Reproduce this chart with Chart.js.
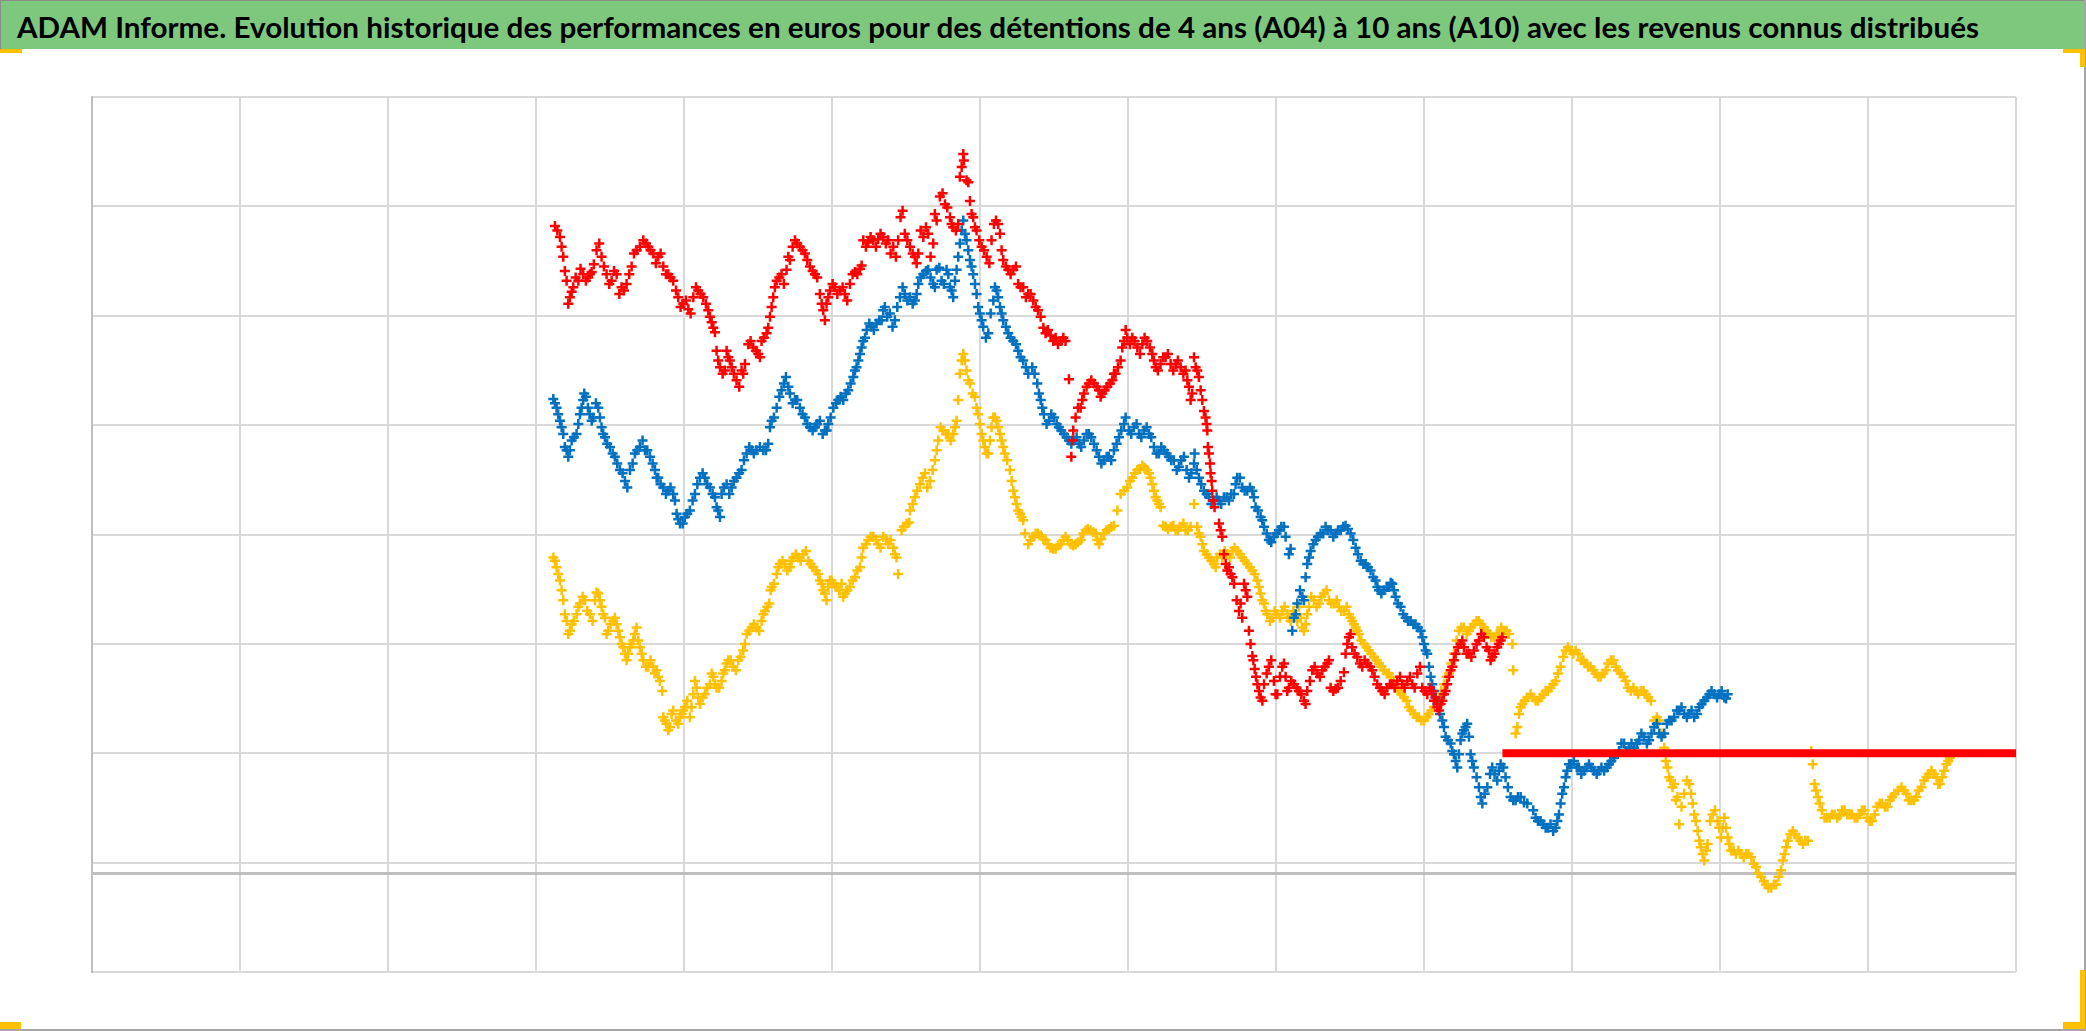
<!DOCTYPE html>
<html lang="fr">
<head>
<meta charset="utf-8">
<title>ADAM Informe</title>
<script src="https://cdn.jsdelivr.net/npm/chart.js@4.4.1/dist/chart.umd.min.js"></script>
<style>
  html, body { margin: 0; padding: 0; background: #fff; }
  #page { position: relative; width: 2086px; height: 1031px; overflow: hidden; background: #fff; }
  #bandeau {
    position: absolute; left: 0; top: 0; width: 2084px; height: 48px;
    background: #7ec87e; border-top: 1px solid #8c8c8c; border-left: 1px solid #8c8c8c;
  }
  #titre {
    position: absolute; left: 16px; top: 8px; white-space: nowrap; line-height: normal;
    font-family: 'Lato', 'Open Sans', 'Liberation Sans', sans-serif;
    font-weight: bold; font-size: 29px; color: #000; transform-origin: left top;
  }
  #zone { position: absolute; left: 0; top: 49px; width: 2083px; height: 980px; }
  .bord { position: absolute; background: #a6a6a6; }
  .poignee { position: absolute; background: #ffc000; }
</style>
</head>
<body>
<div id="page">
  <div id="bandeau"><span id="titre">ADAM Informe. Evolution historique des performances en euros pour des détentions de 4 ans (A04) à 10 ans (A10) avec les revenus connus distribués</span></div>
  <div id="zone"><canvas id="graphique" width="2083" height="980"></canvas></div>
  <div class="bord" style="left:2084px; top:0; width:2px; height:1031px"></div>
  <div class="bord" style="left:0; top:1029px; width:2086px; height:2px"></div>
  <div class="poignee" style="left:0; top:49px; width:22px; height:4px"></div>
  <div class="poignee" style="left:2063px; top:49px; width:22px; height:4px"></div>
  <div class="poignee" style="left:2080px; top:49px; width:5px; height:18px"></div>
  <div class="poignee" style="left:0; top:1022px; width:21px; height:7px"></div>
  <div class="poignee" style="left:2063px; top:1022px; width:22px; height:7px"></div>
  <div class="poignee" style="left:2080px; top:970px; width:5px; height:59px"></div>
</div>
<script>
// Axes (sans libellés visibles dans l'original)
const xTicks = [0, 1, 2, 3, 4, 5, 6, 7, 8, 9, 10, 11, 12, 13];
const yTicks = [-900, 0, 100, 1100, 2100, 3100, 4100, 5100, 6100, 7100];

// A10 (rouge) - premier relevé
const a10X = [3.128,3.162,3.184,3.207,3.229,3.252,3.286,3.319,3.353,3.376,3.409,3.443,3.477,3.511,3.545,3.578,3.612,3.646,3.680,3.725,3.759,3.792,3.826,3.860,3.894,3.927,3.961,3.995,4.029,4.063,4.096,4.130,4.164,4.187,4.209,4.220,4.243,4.276,4.299,4.322,4.355,4.389,4.412,4.434,4.468,4.502,4.524,4.558,4.581,4.603,4.626,4.659,4.693,4.716,4.750,4.783,4.817,4.851,4.885,4.918,4.941,4.963,4.986,5.020,5.054,5.087,5.121,5.155,5.189,5.211,5.245,5.279,5.312,5.346,5.380,5.414,5.447,5.463,5.492,5.527,5.560,5.583,5.617,5.650,5.684,5.707,5.729,5.763,5.797,5.819,5.853,5.864,5.876,5.887,5.909,5.932,5.954,5.977,6.011,6.045,6.078,6.108,6.135,6.157,6.191,6.225,6.258,6.292,6.326,6.342,6.376,6.410,6.443,6.477,6.511,6.545,6.578,6.601,6.617,6.624,6.630,6.646,6.680,6.702,6.736,6.770,6.804,6.826,6.860,6.894,6.916,6.950,6.973,6.995,7.029,7.063,7.097,7.130,7.164,7.187,7.220,7.254,7.288,7.322,7.356,7.389,7.412,7.434,7.457,7.479,7.502,7.524,7.536,7.547,7.558,7.569,7.585,7.615,7.637,7.648,7.671,7.693,7.716,7.750,7.772,7.795,7.817,7.828,7.840,7.856,7.874,7.896,7.919,7.952,7.986,8.009,8.042,8.065,8.087,8.121,8.155,8.189,8.211,8.245,8.279,8.313,8.347,8.369,8.403,8.437,8.459,8.470,8.493,8.515,8.549,8.583,8.617,8.651,8.684,8.718,8.752,8.786,8.819,8.853,8.887,8.921,8.955,8.988,9.022,9.056,9.078,9.101,9.124,9.146,9.169,9.191,9.214,9.247,9.270,9.304,9.337,9.371,9.405,9.439,9.461,9.495,9.518,9.529];
const a10Y = [5920,5820,5640,5420,5270,5360,5420,5480,5450,5500,5700,5640,5480,5420,5480,5360,5390,5550,5700,5790,5730,5670,5640,5550,5480,5420,5270,5210,5160,5270,5330,5270,5150,5040,4950,4780,4630,4600,4720,4630,4510,4600,4660,4840,4810,4750,4870,4940,5090,5270,5420,5480,5520,5610,5790,5730,5670,5550,5480,5300,5150,5210,5330,5360,5330,5300,5390,5500,5530,5790,5770,5790,5800,5820,5790,5730,5790,6000,5850,5730,5640,5670,5820,5850,5760,5970,6190,6120,6000,5910,5940,6370,6460,6580,6340,6150,6000,5880,5730,5640,5790,5970,5850,5610,5520,5520,5390,5360,5300,5300,5180,5090,4940,4920,4900,4870,4870,4520,3810,3960,4050,4170,4260,4390,4480,4480,4420,4390,4450,4510,4570,4690,4870,4900,4900,4810,4840,4870,4750,4630,4660,4720,4660,4660,4630,4600,4450,4390,4630,4540,4330,4170,4050,3840,3660,3500,3350,3200,3080,2920,2770,2740,2650,2400,2340,2590,2220,2100,1990,1870,1730,1610,1730,1890,1760,1640,1890,1800,1700,1730,1670,1580,1670,1860,1830,1860,1920,1700,1690,1760,1840,2010,2160,2070,1980,1890,1920,1860,1730,1670,1700,1730,1760,1730,1760,1730,1830,1700,1640,1670,1610,1490,1580,1670,1800,1890,2010,2100,2070,2010,2040,2130,2160,2040,1980,2070,2130,2160];
// A10 - second relevé, entre les points du premier
const a10XBis = [3.144,3.173,3.195,3.218,3.241,3.268,3.301,3.337,3.364,3.391,3.427,3.459,3.495,3.527,3.563,3.594,3.630,3.662,3.702,3.743,3.774,3.810,3.842,3.878,3.909,3.946,3.977,4.013,4.045,4.081,4.112,4.148,4.175,4.198,4.231,4.261,4.288,4.310,4.337,4.373,4.400,4.450,4.486,4.513,4.540,4.569,4.592,4.614,4.644,4.675,4.705,4.734,4.765,4.801,4.833,4.869,4.900,4.930,4.952,4.975,5.004,5.036,5.072,5.103,5.139,5.171,5.200,5.229,5.261,5.297,5.328,5.364,5.396,5.432,5.477,5.509,5.545,5.572,5.599,5.635,5.666,5.695,5.747,5.779,5.808,5.837,5.891,5.921,5.943,5.966,5.995,6.027,6.063,6.094,6.123,6.146,6.175,6.207,6.243,6.274,6.310,6.360,6.392,6.428,6.459,6.495,6.527,6.563,6.662,6.691,6.720,6.752,6.788,6.815,6.842,6.878,6.905,6.932,6.961,6.984,7.013,7.045,7.081,7.112,7.148,7.175,7.202,7.238,7.270,7.306,7.337,7.374,7.401,7.423,7.446,7.468,7.491,7.513,7.531,7.540,7.554,7.565,7.576,7.626,7.660,7.682,7.705,7.734,7.761,7.784,7.806,7.847,7.865,7.885,7.908,7.937,7.968,7.997,8.027,8.054,8.076,8.103,8.139,8.171,8.200,8.229,8.261,8.297,8.329,8.358,8.387,8.419,8.482,8.504,8.531,8.567,8.599,8.635,8.666,8.702,8.734,8.770,8.802,8.838,8.869,8.905,8.937,8.973,9.004,9.040,9.067,9.090,9.112,9.135,9.157,9.180,9.202,9.229,9.259,9.288,9.320,9.355,9.387,9.423,9.450,9.477,9.506];
const a10YBis = [5880,5730,5510,5210,5320,5450,5530,5420,5480,5570,5760,5550,5390,5510,5300,5330,5480,5670,5730,5760,5700,5580,5670,5480,5450,5330,5180,5240,5120,5360,5300,5210,5090,4990,4690,4570,4780,4690,4570,4450,4570,4870,4780,4720,4900,4990,5180,5360,5450,5390,5640,5730,5760,5700,5610,5510,5450,5210,5060,5270,5390,5300,5360,5240,5480,5480,5560,5730,5820,5730,5850,5760,5670,5640,6060,5790,5670,5580,5880,5910,5640,6030,6220,6090,5940,5880,6520,6320,6030,5910,5790,5700,5580,5940,5940,5700,5550,5480,5550,5360,5270,5240,5150,4990,4970,4870,4840,4900,4260,4330,4450,4510,4450,4360,4420,4480,4570,4630,4810,4970,4840,4870,4750,4900,4810,4690,4600,4720,4750,4600,4690,4570,4510,4330,4720,4600,4420,4230,4110,3900,3750,3590,3410,3140,2830,2800,2710,2500,2470,2650,2530,1950,1800,1670,1580,1830,1950,1640,1800,1920,1670,1760,1700,1640,1550,1760,1890,1800,1890,1950,1670,1700,2100,2190,2010,1920,1950,1890,1800,1700,1640,1730,1700,1800,1700,1800,1700,1890,1670,1700,1580,1520,1550,1640,1730,1860,1950,2070,2130,2010,1980,2100,2190,2070,1950,2010,2100];
// A10 : palier final constant
const a10PalierX = [9.53, 13];
const a10PalierY = [1100, 1100];

// A07 (bleu) - premier relevé
const a07X = [3.117,3.139,3.162,3.184,3.195,3.218,3.241,3.274,3.297,3.319,3.337,3.364,3.387,3.421,3.443,3.466,3.500,3.533,3.567,3.601,3.635,3.668,3.702,3.736,3.770,3.804,3.826,3.860,3.894,3.927,3.950,3.973,4.006,4.040,4.074,4.108,4.141,4.175,4.209,4.231,4.254,4.288,4.322,4.355,4.389,4.423,4.457,4.490,4.536,4.569,4.592,4.626,4.659,4.689,4.716,4.750,4.783,4.817,4.851,4.885,4.918,4.952,4.975,5.009,5.042,5.076,5.110,5.144,5.166,5.189,5.211,5.234,5.267,5.301,5.335,5.357,5.391,5.425,5.459,5.492,5.527,5.560,5.583,5.617,5.650,5.684,5.707,5.740,5.774,5.797,5.819,5.842,5.864,5.887,5.909,5.932,5.954,5.977,5.999,6.022,6.056,6.090,6.112,6.135,6.157,6.191,6.225,6.258,6.292,6.326,6.353,6.387,6.410,6.432,6.466,6.500,6.533,6.567,6.601,6.635,6.669,6.702,6.736,6.770,6.804,6.837,6.871,6.905,6.939,6.973,7.006,7.040,7.074,7.108,7.142,7.175,7.209,7.243,7.277,7.310,7.344,7.378,7.412,7.446,7.479,7.513,7.547,7.581,7.615,7.648,7.682,7.716,7.738,7.772,7.806,7.840,7.862,7.896,7.919,7.952,7.986,8.020,8.054,8.087,8.110,8.133,8.144,8.178,8.200,8.211,8.234,8.268,8.301,8.335,8.369,8.403,8.437,8.470,8.504,8.538,8.572,8.606,8.639,8.673,8.696,8.729,8.763,8.786,8.808,8.842,8.876,8.910,8.943,8.977,9.000,9.022,9.045,9.067,9.090,9.124,9.146,9.180,9.202,9.225,9.247,9.270,9.292,9.315,9.337,9.371,9.394,9.428,9.461,9.495,9.518,9.551,9.585,9.619,9.653,9.698,9.754,9.788,9.822,9.855,9.889,9.912,9.934,9.957,9.980,10.013,10.047,10.081,10.115,10.149,10.183,10.217,10.250,10.284,10.318,10.352,10.386,10.420,10.454,10.487,10.521,10.555,10.589,10.623,10.657,10.691,10.725,10.758,10.792,10.826,10.860,10.894,10.928,10.962,10.995,11.029,11.052];
const a07Y = [4340,4260,4140,4020,3900,3810,3960,4020,4200,4330,4360,4200,4170,4260,4080,3990,3900,3810,3690,3590,3690,3840,3900,3870,3810,3690,3620,3530,3500,3470,3290,3200,3260,3320,3470,3620,3620,3530,3440,3320,3470,3560,3530,3620,3690,3840,3870,3870,3870,3930,4140,4260,4420,4540,4390,4330,4260,4170,4080,4080,4140,4050,4110,4260,4330,4330,4420,4540,4630,4750,4870,4970,5000,5030,5060,5180,5120,5060,5270,5300,5270,5240,5390,5480,5520,5390,5520,5420,5520,5360,5270,5520,5760,5970,5790,5610,5480,5300,5120,5000,4940,5240,5330,5180,5060,4940,4870,4780,4690,4570,4630,4480,4330,4200,4140,4170,4080,4020,3960,3960,3930,3960,4020,3930,3810,3780,3810,3870,3990,4110,4050,4080,4020,4050,4020,3900,3840,3870,3810,3780,3720,3810,3620,3750,3620,3500,3440,3410,3410,3440,3410,3470,3620,3530,3500,3500,3350,3260,3170,3050,3080,3140,3170,2920,2220,2370,2470,2530,2710,2830,2950,3050,3110,3170,3140,3110,3140,3180,3110,2980,2860,2830,2770,2680,2590,2590,2620,2650,2530,2440,2340,2310,2280,2220,2100,2010,1800,1670,1550,1400,1250,1190,1090,970,1220,1310,1370,1090,970,790,640,790,970,850,1000,880,700,670,700,640,510,480,420,450,420,540,730,880,1000,1030,970,940,1000,940,940,940,1000,1060,1120,1190,1150,1150,1220,1250,1220,1340,1280,1280,1400,1430,1490,1460,1460,1430,1520,1580,1640,1640,1640,1610,1640];
// A07 - second relevé
const a07XBis = [3.128,3.150,3.173,3.207,3.229,3.256,3.286,3.308,3.326,3.351,3.376,3.405,3.432,3.454,3.481,3.518,3.549,3.585,3.617,3.653,3.684,3.720,3.752,3.788,3.815,3.842,3.878,3.909,3.939,3.961,3.991,4.022,4.058,4.090,4.126,4.157,4.193,4.220,4.243,4.270,4.306,4.337,4.373,4.405,4.441,4.472,4.513,4.554,4.581,4.608,4.644,4.675,4.705,4.734,4.765,4.801,4.833,4.869,4.900,4.937,4.964,4.991,5.027,5.058,5.094,5.126,5.155,5.178,5.200,5.223,5.252,5.283,5.319,5.346,5.373,5.409,5.441,5.477,5.509,5.545,5.572,5.599,5.635,5.666,5.695,5.725,5.756,5.786,5.808,5.831,5.853,5.876,5.898,5.921,5.943,5.966,5.988,6.011,6.040,6.072,6.101,6.123,6.146,6.175,6.207,6.243,6.274,6.310,6.369,6.398,6.421,6.450,6.482,6.518,6.549,6.585,6.617,6.653,6.684,6.720,6.752,6.788,6.820,6.856,6.887,6.923,6.955,6.984,7.022,7.058,7.090,7.126,7.157,7.193,7.225,7.261,7.292,7.329,7.360,7.396,7.428,7.450,7.464,7.495,7.531,7.563,7.599,7.630,7.666,7.698,7.727,7.756,7.788,7.824,7.851,7.878,7.907,7.937,7.968,8.004,8.036,8.065,8.099,8.121,8.162,8.189,8.223,8.252,8.283,8.319,8.351,8.387,8.419,8.455,8.486,8.522,8.554,8.590,8.621,8.657,8.685,8.712,8.748,8.775,8.797,8.824,8.860,8.892,8.928,8.959,8.989,9.011,9.034,9.056,9.078,9.108,9.135,9.162,9.191,9.214,9.236,9.259,9.281,9.304,9.326,9.355,9.383,9.410,9.446,9.477,9.506,9.536,9.567,9.603,9.635,9.676,9.738,9.770,9.806,9.837,9.873,9.901,9.923,9.946,9.968,9.995,10.032,10.063,10.099,10.131,10.167,10.199,10.235,10.266,10.302,10.334,10.370,10.402,10.438,10.469,10.506,10.537,10.573,10.605,10.641,10.673,10.709,10.740,10.776,10.808,10.844,10.876,10.912,10.943,10.980,11.011,11.041];
const a07YBis = [4300,4200,4080,3870,3870,3990,4110,4260,4390,4260,4140,4300,4170,4020,3930,3840,3750,3660,3530,3750,3870,3960,3870,3750,3620,3560,3470,3530,3410,3240,3200,3290,3410,3560,3660,3560,3470,3350,3260,3530,3470,3590,3660,3780,3900,3840,3900,3870,4080,4170,4360,4480,4450,4300,4330,4200,4110,4050,4110,4020,4050,4170,4300,4360,4390,4480,4600,4690,4810,4900,5030,4970,5060,5150,5090,5000,5180,5360,5240,5210,5300,5450,5510,5450,5360,5540,5390,5480,5330,5420,5640,5880,5850,5700,5550,5390,5180,5060,4900,5120,5360,5270,5120,5000,4900,4840,4720,4630,4570,4390,4260,4110,4200,4110,4050,3990,3930,3990,3900,4020,3990,3870,3750,3810,3780,3930,4050,4170,4020,4110,3990,4080,3990,3840,3900,3840,3780,3690,3780,3690,3660,3840,3690,3560,3470,3380,3440,3380,3440,3470,3560,3620,3500,3530,3440,3320,3230,3110,3030,3110,3170,3080,2970,2340,2590,2500,2890,3010,3080,3110,3140,3080,3140,3170,3150,3050,2920,2830,2800,2710,2620,2560,2620,2660,2590,2470,2370,2310,2280,2250,2160,2040,1890,1730,1610,1460,1340,1220,1120,1030,1090,1280,1340,1250,1030,880,700,730,910,910,940,970,790,670,700,650,580,480,450,420,390,480,640,790,940,1000,970,910,970,970,910,970,970,1030,1090,1190,1120,1190,1190,1280,1190,1280,1370,1250,1370,1400,1490,1520,1430,1490,1460,1550,1610,1670,1610,1670,1600];

// A04 (jaune) - premier relevé
const a04X = [3.117,3.139,3.162,3.184,3.207,3.218,3.241,3.274,3.297,3.331,3.364,3.398,3.421,3.443,3.466,3.488,3.522,3.545,3.567,3.590,3.612,3.635,3.657,3.680,3.702,3.725,3.759,3.792,3.815,3.837,3.853,3.860,3.882,3.905,3.927,3.961,3.984,4.006,4.040,4.063,4.085,4.108,4.141,4.175,4.198,4.220,4.254,4.276,4.299,4.333,4.367,4.400,4.423,4.457,4.490,4.524,4.547,4.576,4.592,4.626,4.648,4.682,4.716,4.738,4.772,4.806,4.840,4.873,4.907,4.930,4.952,4.975,4.997,5.031,5.065,5.087,5.121,5.155,5.189,5.211,5.245,5.279,5.312,5.346,5.380,5.414,5.436,5.447,5.470,5.504,5.527,5.560,5.594,5.628,5.662,5.695,5.718,5.752,5.786,5.819,5.842,5.864,5.887,5.909,5.932,5.966,5.988,6.011,6.033,6.056,6.078,6.101,6.123,6.146,6.168,6.202,6.225,6.247,6.270,6.292,6.304,6.326,6.342,6.376,6.410,6.443,6.477,6.511,6.545,6.578,6.612,6.646,6.680,6.714,6.747,6.781,6.804,6.837,6.871,6.905,6.928,6.950,6.995,7.029,7.063,7.097,7.130,7.153,7.175,7.198,7.220,7.254,7.288,7.322,7.356,7.389,7.423,7.446,7.468,7.491,7.513,7.547,7.581,7.603,7.637,7.671,7.705,7.738,7.772,7.806,7.840,7.874,7.896,7.919,7.941,7.975,8.009,8.042,8.076,8.099,8.133,8.155,8.178,8.200,8.223,8.256,8.290,8.324,8.358,8.392,8.425,8.459,8.493,8.515,8.538,8.560,8.594,8.628,8.662,8.696,8.729,8.763,8.797,8.831,8.865,8.898,8.932,8.966,9.000,9.033,9.067,9.101,9.135,9.169,9.202,9.236,9.270,9.304,9.337,9.371,9.405,9.439,9.473,9.506,9.540,9.574,9.597,9.603,9.619,9.642,9.664,9.698,9.720,9.754,9.788,9.822,9.855,9.889,9.923,9.957,9.991,10.025,10.059,10.092,10.126,10.160,10.194,10.228,10.262,10.296,10.329,10.363,10.397,10.431,10.465,10.499,10.533,10.555,10.589,10.623,10.646,10.668,10.691,10.713,10.725,10.758,10.792,10.804,10.826,10.849,10.871,10.894,10.916,10.950,10.984,11.007,11.029,11.052,11.074,11.108,11.142,11.176,11.210,11.244,11.278,11.311,11.345,11.379,11.413,11.436,11.458,11.492,11.526,11.560,11.594,11.616,11.627,11.650,11.673,11.706,11.740,11.774,11.808,11.842,11.876,11.910,11.943,11.977,12.011,12.045,12.079,12.113,12.147,12.180,12.226,12.260,12.293,12.327,12.361,12.395,12.429,12.463,12.485,12.515,12.542,12.564];
const a04Y = [2890,2800,2680,2500,2310,2190,2280,2370,2470,2500,2370,2500,2560,2440,2340,2220,2310,2280,2160,2070,1950,2070,2130,2250,2070,1950,1890,1890,1860,1760,1670,1430,1370,1340,1490,1370,1460,1520,1430,1640,1700,1550,1640,1730,1800,1700,1760,1860,1950,1890,1950,2040,2190,2250,2250,2310,2400,2470,2620,2740,2830,2830,2800,2890,2890,2920,2860,2800,2740,2650,2560,2620,2680,2620,2650,2560,2620,2710,2800,2980,3050,3080,3010,3080,3010,2980,2890,2740,3140,3200,3320,3440,3560,3660,3590,3780,3960,4050,4020,4020,4140,4570,4750,4600,4480,4360,4200,4020,3900,3840,4080,4170,4080,3960,3840,3690,3500,3380,3290,3230,3110,3010,3050,3110,3090,3050,2980,2970,3010,3080,3010,3010,3050,3140,3140,3110,3010,3110,3150,3180,3320,3470,3530,3620,3690,3730,3690,3620,3500,3410,3350,3170,3170,3140,3170,3140,3170,3380,3170,3080,2950,2890,2830,2890,2890,2920,2950,2950,2890,2830,2770,2680,2560,2470,2370,2340,2370,2400,2370,2310,2370,2440,2250,2280,2440,2500,2470,2560,2500,2470,2440,2400,2370,2310,2250,2190,2100,2040,1980,1920,1860,1830,1760,1670,1610,1520,1460,1430,1400,1460,1520,1610,1730,1830,2010,2220,2250,2220,2280,2310,2250,2190,2160,2190,2220,2190,2100,1860,1280,1460,1550,1610,1640,1580,1610,1670,1700,1760,1890,2040,2040,2040,1950,1920,1890,1830,1800,1860,1950,1890,1830,1760,1670,1670,1670,1640,1580,1400,1400,1150,970,850,820,700,450,730,820,730,540,390,240,120,270,540,480,330,510,330,210,180,180,180,150,60,-30,-100,-130,-100,30,180,300,390,330,270,300,1120,1000,760,640,510,510,540,530,580,540,510,540,580,480,540,640,610,670,730,790,730,670,700,790,880,940,880,820,940,1030,1080];
// A04 - second relevé
const a04XBis = [3.128,3.150,3.173,3.195,3.229,3.256,3.286,3.315,3.346,3.382,3.409,3.432,3.454,3.477,3.504,3.533,3.556,3.578,3.601,3.623,3.646,3.668,3.691,3.714,3.743,3.774,3.804,3.826,3.871,3.894,3.916,3.946,3.973,3.995,4.022,4.051,4.074,4.096,4.126,4.157,4.187,4.209,4.238,4.265,4.288,4.315,4.351,4.382,4.412,4.441,4.472,4.508,4.536,4.563,4.585,4.608,4.637,4.666,4.698,4.727,4.756,4.788,4.824,4.855,4.891,4.918,4.941,4.963,4.986,5.013,5.049,5.076,5.103,5.139,5.171,5.200,5.229,5.261,5.297,5.328,5.364,5.396,5.425,5.486,5.522,5.545,5.576,5.612,5.644,5.680,5.707,5.734,5.770,5.802,5.831,5.853,5.876,5.898,5.921,5.950,5.977,5.999,6.022,6.045,6.067,6.090,6.112,6.135,6.157,6.184,6.214,6.236,6.258,6.281,6.360,6.392,6.428,6.459,6.495,6.527,6.563,6.594,6.630,6.662,6.698,6.729,6.765,6.792,6.819,6.855,6.887,6.973,7.013,7.045,7.081,7.112,7.142,7.164,7.187,7.209,7.238,7.270,7.306,7.338,7.374,7.405,7.479,7.502,7.531,7.563,7.592,7.621,7.653,7.689,7.720,7.756,7.788,7.824,7.856,7.885,7.908,7.930,7.959,7.991,8.027,8.058,8.088,8.117,8.144,8.166,8.189,8.211,8.238,8.274,8.306,8.342,8.374,8.410,8.441,8.477,8.504,8.527,8.549,8.576,8.612,8.644,8.680,8.712,8.748,8.779,8.815,8.847,8.883,8.914,8.950,8.982,9.018,9.049,9.085,9.117,9.153,9.184,9.220,9.252,9.288,9.320,9.355,9.387,9.423,9.455,9.491,9.522,9.558,9.631,9.653,9.680,9.738,9.770,9.806,9.837,9.873,9.905,9.941,9.973,10.009,10.041,10.077,10.108,10.144,10.176,10.212,10.244,10.280,10.311,10.348,10.379,10.415,10.447,10.483,10.515,10.573,10.605,10.634,10.657,10.679,10.702,10.740,10.776,10.815,10.837,10.860,10.883,10.905,10.934,10.966,10.995,11.018,11.041,11.063,11.092,11.124,11.160,11.192,11.228,11.260,11.296,11.327,11.363,11.395,11.424,11.447,11.476,11.508,11.544,11.576,11.639,11.661,11.688,11.724,11.756,11.792,11.824,11.860,11.892,11.928,11.959,11.995,12.027,12.063,12.095,12.131,12.163,12.203,12.244,12.275,12.311,12.343,12.379,12.411,12.447,12.474,12.501,12.530,12.553];
const a04YBis = [2860,2740,2590,2370,2220,2310,2440,2530,2400,2310,2570,2500,2370,2190,2280,2340,2220,2100,2010,2010,2100,2190,2130,2010,1890,1950,1830,1800,1400,1310,1460,1400,1430,1490,1580,1520,1760,1610,1610,1700,1830,1730,1700,1830,1920,1950,1860,1980,2100,2220,2280,2220,2370,2440,2590,2650,2800,2860,2770,2860,2920,2860,2950,2830,2770,2680,2590,2500,2680,2650,2590,2530,2590,2680,2770,2890,3010,3080,3050,2980,3060,3050,2920,3170,3210,3380,3500,3620,3530,3690,3870,4080,4020,3960,4080,4330,4690,4690,4510,4390,4260,4110,3960,3840,3960,4170,4140,4020,3900,3780,3590,3440,3320,3260,3080,3110,3060,3010,2970,3000,3050,3050,3000,3030,3110,3150,3120,3050,3060,3140,3170,3500,3590,3660,3700,3710,3660,3560,3440,3380,3180,3150,3180,3140,3200,3140,3110,3010,2920,2860,2800,2920,2950,2890,2980,2920,2860,2800,2740,2620,2500,2400,2310,2400,2340,2440,2340,2400,2310,2340,2220,2370,2530,2440,2530,2590,2470,2500,2400,2440,2340,2280,2220,2130,2070,2010,1950,1890,1830,1800,1700,1640,1580,1490,1430,1400,1430,1490,1580,1670,1800,1920,2130,2250,2190,2250,2310,2280,2220,2160,2190,2250,2220,1340,1520,1580,1610,1580,1640,1670,1730,1830,1980,2070,2010,2010,1950,1890,1860,1800,1830,1920,1950,1860,1800,1700,1700,1640,1670,1610,1430,1280,1030,880,790,670,610,850,640,480,300,180,210,480,580,420,420,420,270,210,210,150,180,90,0,-70,-130,-100,-30,120,240,360,360,300,300,820,700,580,510,540,510,580,540,540,510,580,510,480,610,640,610,700,760,760,670,670,760,850,910,910,820,880,1000,1060];

const ROUGE = '#ff0000';
const BLEU = '#0070c0';
const JAUNE = '#ffc000';
const GRILLE = '#d9d9d9';
const AXE = '#bfbfbf';

function points(xs, ys) {
  return xs.map((x, i) => ({ x: x, y: ys[i] }));
}

function serie(label, xs, ys, couleur) {
  return {
    label: label,
    data: points(xs, ys),
    pointStyle: 'cross',
    pointRadius: 5,
    pointHoverRadius: 5,
    pointBorderWidth: 2.5,
    borderColor: couleur,
    backgroundColor: couleur,
    showLine: false
  };
}

document.addEventListener('DOMContentLoaded', function() {
  // ajuste la largeur du titre à celle du bandeau d'origine
  const titre = document.getElementById('titre');
  const largeur = titre.getBoundingClientRect().width;
  titre.style.transform = 'scaleX(' + (1962 / largeur) + ')';

  const ctx = document.getElementById('graphique').getContext('2d');
  new Chart(ctx, {
    type: 'scatter',
    data: {
      datasets: [
        serie('A10', a10X.concat(a10XBis), a10Y.concat(a10YBis), ROUGE),
        {
          label: 'A10 palier',
          data: points(a10PalierX, a10PalierY),
          showLine: true,
          borderColor: ROUGE,
          backgroundColor: ROUGE,
          borderWidth: 8,
          pointRadius: 0,
          pointHoverRadius: 0
        },
        serie('A07', a07X.concat(a07XBis), a07Y.concat(a07YBis), BLEU),
        serie('A04', a04X.concat(a04XBis), a04Y.concat(a04YBis), JAUNE)
      ]
    },
    options: {
      responsive: false,
      animation: false,
      layout: { padding: { left: 92, top: 48, right: 67, bottom: 57 } },
      plugins: {
        legend: { display: false },
        tooltip: { enabled: false },
        title: { display: false }
      },
      scales: {
        x: {
          type: 'linear',
          min: xTicks[0],
          max: xTicks[xTicks.length - 1],
          afterBuildTicks: function(scale) {
            scale.ticks = xTicks.map(v => ({ value: v }));
          },
          ticks: { display: false },
          grid: { color: GRILLE, lineWidth: 2, drawTicks: false },
          border: { display: false }
        },
        y: {
          type: 'linear',
          min: yTicks[0],
          max: yTicks[yTicks.length - 1],
          afterBuildTicks: function(scale) {
            scale.ticks = yTicks.map(v => ({ value: v }));
          },
          ticks: { display: false },
          grid: {
            drawTicks: false,
            color: c => (c.tick && c.tick.value === 0) ? AXE : GRILLE,
            lineWidth: c => (c.tick && c.tick.value === 0) ? 3 : 2
          },
          border: { display: true, color: AXE, width: 2 }
        }
      }
    }
  });
});
</script>
</body>
</html>
